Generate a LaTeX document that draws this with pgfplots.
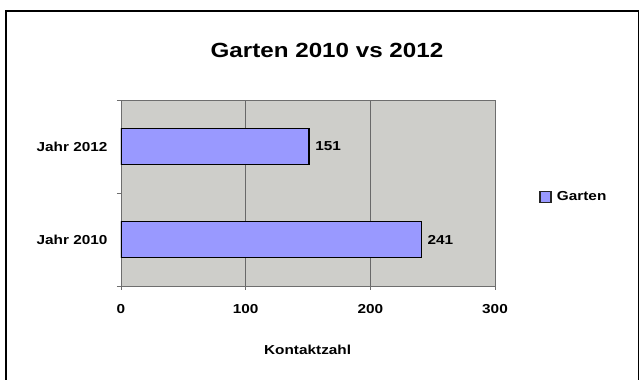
\documentclass[border=0pt]{standalone}
\usepackage{pgfplots}
\pgfplotsset{compat=1.18}
\usepackage{fontspec}
\setmainfont[FakeStretch=1.18]{Liberation Sans}
\definecolor{barc}{RGB}{153,153,255}
\definecolor{plotbg}{RGB}{206,206,202}
\definecolor{gridc}{RGB}{105,105,105}
\definecolor{axc}{RGB}{110,110,110}
\begin{document}
\begin{tikzpicture}[x=1pt,y=1pt]
\useasboundingbox (0,0) rectangle (640,380);
\fill[white] (0,0) rectangle (640,380);
\draw[line width=1.8pt] (6,-10) rectangle (638.5,369);
\node[font=\bfseries\fontsize{20.5}{20.5}\selectfont] at (327,330) {Garten 2010 vs 2012};
\begin{axis}[
  at={(121pt,94pt)}, anchor=south west, scale only axis,
  width=374pt, height=186pt,
  xbar, bar width=0.39,
  xmin=0, xmax=300, ymin=-0.5, ymax=1.5,
  /pgf/number format/assume math mode=true,
  ytick={0,1}, yticklabels={Jahr 2010, Jahr 2012},
  ytick pos=left, xtick pos=bottom,
  y tick style={draw=none},
  extra y ticks={-0.5,0.5,1.5}, extra y tick labels={},
  extra y tick style={y tick style={draw=axc, line width=0.8pt}, grid=none},
  xtick={0,100,200,300},
  tick align=outside, major tick length=4pt,
  x tick style={draw=axc, line width=0.8pt},
  axis background/.style={fill=plotbg},
  axis line style={draw=axc, line width=0.8pt},
  xmajorgrids, grid style={draw=gridc, line width=0.8pt},
  ticklabel style={font=\bfseries\fontsize{13}{13}\selectfont},
  yticklabel style={xshift=-6pt},
  xticklabel style={yshift=-11pt},
  xlabel={Kontaktzahl},
  xlabel style={font=\bfseries\fontsize{13}{13}\selectfont, at={(axis description cs:0.499,-0.344)}, anchor=center},
  nodes near coords,
  every node near coord/.append style={font=\bfseries\fontsize{13}{13}\selectfont, xshift=2pt},
  legend style={at={(1.118,0.478)}, anchor=west, draw=none, fill=none, inner sep=0pt,
    font=\bfseries\fontsize{13}{13}\selectfont},
  legend image code/.code={\draw[fill=barc, draw=black!85, line width=1.6pt] (0pt,-5.5pt) rectangle (11pt,5.5pt);
    \path (14pt,0pt);},
]
\addplot[fill=barc, draw=black, line width=1.6pt] coordinates {(241,0) (151,1)};
\legend{Garten}
\end{axis}
\end{tikzpicture}
\end{document}
